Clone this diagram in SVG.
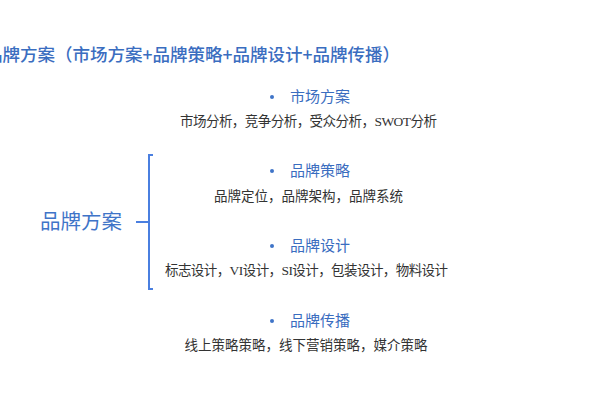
<svg xmlns="http://www.w3.org/2000/svg" width="600" height="400" viewBox="0 0 600 400">
<style>
.title{font-family:"Noto Sans CJK SC","Noto Sans",sans-serif;font-size:17.5px;font-weight:500;fill:#3a6dc0}
.root{font-family:"Noto Sans CJK SC","Noto Sans",sans-serif;font-size:20.5px;fill:#3f74c8}
.head{font-family:"Noto Sans CJK SC","Noto Sans",sans-serif;font-size:15px;fill:#3a6dc0}
.dot{fill:#3f74c8}
.sub{font-family:"Liberation Serif","Noto Sans CJK SC",serif;font-size:13.5px;fill:#333;text-anchor:middle}
.br{fill:none;stroke:#4a7fe0;stroke-width:2}
</style>
<rect width="600" height="400" fill="#fff"/>
<g id="title"><text class="title" x="-15" y="61">品牌方案（市场方案+品牌策略+品牌设计+品牌传播）</text></g>
<g id="root"><text class="root" x="40" y="229">品牌方案</text></g>
<g id="connectors">
<path class="br" d="M153,155 H149 V289 H153 M136,222 H149"/>
</g>
<g id="n1"><circle class="dot" cx="272" cy="97" r="2"/><text class="head" x="290" y="102">市场方案</text><text class="sub" x="308.5" y="125.5" textLength="257">市场分析，竞争分析，受众分析，SWOT分析</text></g>
<g id="n2"><circle class="dot" cx="272" cy="171" r="2"/><text class="head" x="290" y="176">品牌策略</text><text class="sub" x="308.5" y="200.5">品牌定位，品牌架构，品牌系统</text></g>
<g id="n3"><circle class="dot" cx="272" cy="246" r="2"/><text class="head" x="290" y="251">品牌设计</text><text class="sub" x="306.5" y="274.5" textLength="283">标志设计，VI设计，SI设计，包装设计，物料设计</text></g>
<g id="n4"><circle class="dot" cx="272" cy="321" r="2"/><text class="head" x="290" y="326">品牌传播</text><text class="sub" x="306" y="349.5">线上策略策略，线下营销策略，媒介策略</text></g>
</svg>
